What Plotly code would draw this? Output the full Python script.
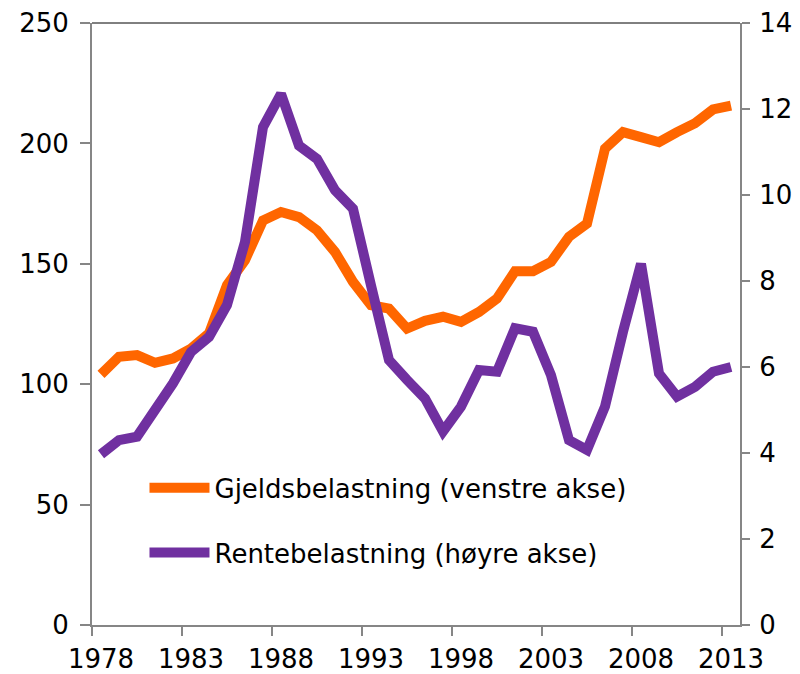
import plotly.graph_objects as go

# Data
years = list(range(1978, 2014))

gjeldsbelastning = [
    104.1, 111.4, 112.1, 108.9, 110.7, 114.8, 121.1, 141.1, 151.5, 168.0,
    171.5, 169.4, 163.9, 154.9, 142.5, 132.8, 131.4, 123.1, 126.3, 128.0,
    125.9, 130.0, 135.6, 146.9, 146.9, 150.8, 161.2, 166.7, 197.8, 204.7,
    202.6, 200.5, 204.7, 208.4, 214.1, 215.7,
]

rentebelastning = [
    3.97, 4.30, 4.38, 5.00, 5.62, 6.35, 6.70, 7.44, 8.91, 11.58,
    12.35, 11.15, 10.84, 10.11, 9.68, 7.90, 6.16, 5.70, 5.27, 4.50,
    5.08, 5.93, 5.89, 6.90, 6.82, 5.81, 4.30, 4.07, 5.08, 6.82,
    8.40, 5.85, 5.31, 5.54, 5.89, 6.00,
]

left_ticks = [0, 50, 100, 150, 200, 250]
right_ticks = [0, 2, 4, 6, 8, 10, 12, 14]
x_label_years = [1978, 1983, 1988, 1993, 1998, 2003, 2008, 2013]

ORANGE = "#FF6600"
PURPLE = "#7030A0"
AXIS_GREY = "#868686"
FONT = "DejaVu Sans"

fig = go.Figure()

fig.add_trace(go.Scatter(
    x=years, y=gjeldsbelastning,
    name="Gjeldsbelastning (venstre akse)",
    legendgroup="gjeld",
    mode="lines",
    line=dict(color=ORANGE, width=10),
    yaxis="y",
))

fig.add_trace(go.Scatter(
    x=years, y=rentebelastning,
    name="Rentebelastning (høyre akse)",
    legendgroup="rente",
    mode="lines",
    line=dict(color=PURPLE, width=10),
    yaxis="y2",
))

# category-style axis: labels at year centres, tick marks on year boundaries
boundaries = [y - 0.5 for y in x_label_years]

fig.update_layout(
    width=800, height=674,
    margin=dict(l=92, r=60, t=23, b=49),
    paper_bgcolor="white",
    plot_bgcolor="white",
    font=dict(family=FONT, size=26, color="black"),
    showlegend=True,
    legend=dict(
        x=0.081, y=0.174, xanchor="left", yanchor="middle",
        bgcolor="rgba(0,0,0,0)",
        font=dict(family=FONT, size=26, color="black"),
        itemwidth=60,
        tracegroupgap=28,
    ),
    xaxis=dict(
        range=[min(years) - 0.5, max(years) + 0.5],
        tickvals=x_label_years,
        ticktext=[str(y) for y in x_label_years],
        ticks="",
        ticklabelstandoff=10,
        showgrid=False,
        zeroline=False,
        automargin=False,
        showline=True, linecolor=AXIS_GREY, linewidth=2,
        minor=dict(tickvals=boundaries, ticks="outside", ticklen=9,
                   tickwidth=2, tickcolor=AXIS_GREY, showgrid=False),
        tickfont=dict(size=26),
    ),
    yaxis=dict(
        range=[0, 250],
        tickvals=left_ticks,
        ticks="outside", ticklen=10, tickwidth=2, tickcolor=AXIS_GREY,
        ticklabelstandoff=6,
        showgrid=False, zeroline=False,
        automargin=False,
        showline=True, linecolor=AXIS_GREY, linewidth=2,
        tickfont=dict(size=26),
    ),
    yaxis2=dict(
        range=[0, 14],
        tickvals=right_ticks,
        overlaying="y", side="right",
        ticks="outside", ticklen=8, tickwidth=2, tickcolor=AXIS_GREY,
        ticklabelstandoff=4,
        showgrid=False, zeroline=False,
        automargin=False,
        showline=True, linecolor=AXIS_GREY, linewidth=2,
        tickfont=dict(size=26),
    ),
    shapes=[dict(type="line", xref="paper", yref="paper",
                 x0=0, x1=1, y0=1, y1=1,
                 line=dict(color="black", width=1))],
)

# drop the browser's default 8px body margin so the figure fills the window
fig.write_html("out.html",
               config={"displayModeBar": False},
               post_script="document.body.style.margin='0';")
